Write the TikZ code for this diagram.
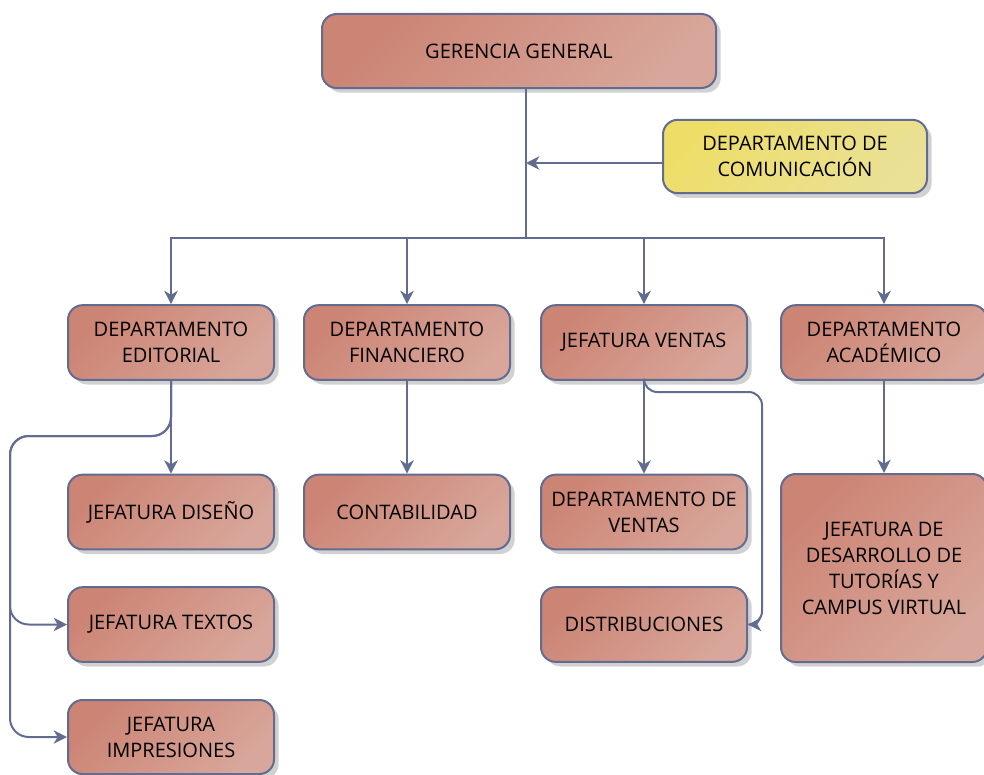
\documentclass[tikz,border=0pt]{standalone}
\usepackage{fontspec}
\setmainfont{Open Sans}
\usepackage{tikz}
\usetikzlibrary{arrows.meta,shadows}
\usepackage{xcolor}

\definecolor{boxdark}{RGB}{204,132,116}
\definecolor{boxlight}{RGB}{216,166,154}
\definecolor{boxedge}{RGB}{98,108,145}
\definecolor{yellowdark}{RGB}{238,222,104}
\definecolor{yellowlight}{RGB}{234,224,150}
\definecolor{lineclr}{RGB}{98,108,145}

\tikzset{
  orgbox/.style={draw=boxedge, line width=1.5pt, rounded corners=11pt,
    left color=boxdark, right color=boxlight, shading angle=45,
    drop shadow={shadow xshift=3.5pt, shadow yshift=-3.5pt, fill=black!30, opacity=0.6},
    minimum width=154.5pt, minimum height=56pt, align=center, inner sep=2pt,
    font=\fontsize{15}{19.5}\selectfont},
  notebox/.style={orgbox, left color=yellowdark, right color=yellowlight, shading angle=45},
  conn/.style={draw=lineclr, line width=1.5pt},
  tip/.style={-{Stealth[length=10pt,width=10pt,inset=3pt]}}
}

\begin{document}
\begin{tikzpicture}[x=0.75pt,y=0.75pt,yscale=-1]
\useasboundingbox (0,0) rectangle (984,774);

%Shape: Rounded Rect [top]
\node[orgbox, minimum width=295.5pt, minimum height=55.5pt] (gerencia) at (519,51) {GERENCIA GENERAL};
%Shape: Rounded Rect [staff]
\node[notebox, minimum width=198pt, minimum height=55pt] (comunicacion) at (795,156.5) {DEPARTAMENTO DE\\COMUNICACIÓN};

%Shape: Rounded Rect [second level]
\node[orgbox] (editorial) at (171,342.5) {DEPARTAMENTO\\EDITORIAL};
\node[orgbox] (financiero) at (407,342.5) {DEPARTAMENTO\\FINANCIERO};
\node[orgbox] (ventas) at (644,342.5) {JEFATURA VENTAS};
\node[orgbox] (academico) at (884,342.5) {DEPARTAMENTO\\ACADÉMICO};

%Shape: Rounded Rect [third level]
\node[orgbox] (diseno) at (171,512) {JEFATURA DISEÑO};
\node[orgbox] (contabilidad) at (407,512) {CONTABILIDAD};
\node[orgbox] (dptoventas) at (644,512) {DEPARTAMENTO DE\\VENTAS};
\node[orgbox, minimum height=141pt] (desarrollo) at (884,568) {JEFATURA DE\\DESARROLLO DE\\TUTORÍAS Y\\CAMPUS VIRTUAL};
\node[orgbox] (textos) at (171,624.5) {JEFATURA TEXTOS};
\node[orgbox] (distribuciones) at (644,624.5) {DISTRIBUCIONES};
\node[orgbox, minimum height=55.5pt] (impresiones) at (171,737) {JEFATURA\\IMPRESIONES};

%Connector points
\coordinate (bus) at (526,238);
\coordinate (junction) at (526,163);
\coordinate (edleft) at (10,436);
\coordinate (veright) at (762,392);

%Straight Lines [trunk and bus]
\draw[conn] (gerencia.south -| bus) -- (bus);
\draw[conn,tip] (comunicacion.west |- junction) -- (junction);
\draw[conn,tip] (bus) -| (editorial.north);
\draw[conn,tip] (bus) -| (financiero.north);
\draw[conn,tip] (bus) -| (ventas.north);
\draw[conn,tip] (bus) -| (academico.north);

%Straight Lines [down]
\draw[conn,tip] (editorial.south) -- (diseno.north);
\draw[conn,tip] (financiero.south) -- (contabilidad.north);
\draw[conn,tip] (ventas.south) -- (dptoventas.north);
\draw[conn,tip] (academico.south) -- (desarrollo.north);

%Elbow Lines
\draw[conn,tip,rounded corners=14] (editorial.south) |- (edleft) |- (textos.west);
\draw[conn,tip,rounded corners=14] (editorial.south) |- (edleft) |- (impresiones.west);
\draw[conn,tip,rounded corners=10] (ventas.south) |- (veright) |- (distribuciones.east);

\end{tikzpicture}
\end{document}
